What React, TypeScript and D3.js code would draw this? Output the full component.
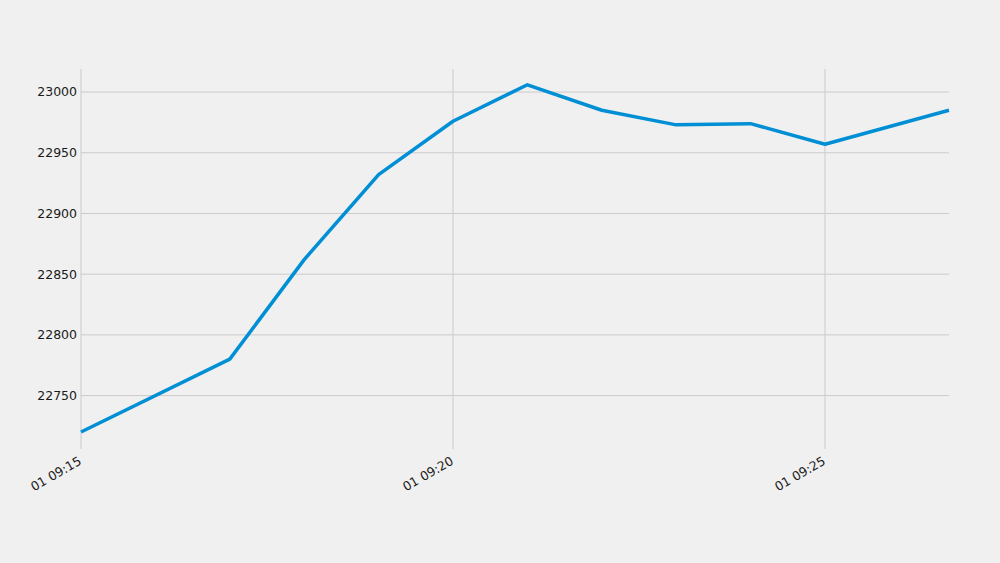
import React, { useEffect, useRef } from "react";
import * as d3 from "d3";

// minute bars, Jan 01
const times: string[] = [
    "09:15:00", "09:17:00", "09:18:00", "09:19:00", "09:20:00", "09:21:00",
    "09:22:00", "09:23:00", "09:24:00", "09:25:00", "09:26:40",
];
const prices: number[] = [
    22720, 22780, 22862, 22932, 22976, 23006,
    22985, 22973, 22974, 22957, 22985,
];
const yTicks: number[] = [22750, 22800, 22850, 22900, 22950, 23000];
const xTickTimes: string[] = ["09:15:00", "09:20:00", "09:25:00"];

const parseTime = d3.timeParse("%Y-%m-%d %H:%M:%S");
const toDate = (t: string) => parseTime("2000-01-01 " + t) as Date;

export default function App() {
    const svgRef = useRef<SVGSVGElement | null>(null);

    useEffect(() => {
        document.body.style.margin = "0";
        if (!svgRef.current) return;

        const width = 1000;
        const height = 563;
        const margin = { top: 69, right: 51, bottom: 114, left: 81 };

        const svg = d3.select(svgRef.current);
        svg.selectAll("*").remove();

        svg.append("rect")
            .attr("width", width)
            .attr("height", height)
            .attr("fill", "#f0f0f0");

        const dates = times.map(toDate);

        const x = d3.scaleTime()
            .domain([dates[0], dates[dates.length - 1]])
            .range([margin.left, width - margin.right]);

        const y = d3.scaleLinear()
            .domain([22706, 23019])
            .range([height - margin.bottom, margin.top]);

        const font = "DejaVu Sans, sans-serif";

        // horizontal grid
        svg.append("g")
            .selectAll("line")
            .data(yTicks)
            .join("line")
            .attr("x1", margin.left)
            .attr("x2", width - margin.right)
            .attr("y1", d => y(d))
            .attr("y2", d => y(d))
            .attr("stroke", "#cbcbcb")
            .attr("stroke-width", 1);

        // vertical grid
        svg.append("g")
            .selectAll("line")
            .data(xTickTimes.map(toDate))
            .join("line")
            .attr("x1", d => x(d))
            .attr("x2", d => x(d))
            .attr("y1", margin.top)
            .attr("y2", height - margin.bottom)
            .attr("stroke", "#cbcbcb")
            .attr("stroke-width", 1);

        // y labels
        svg.append("g")
            .selectAll("text")
            .data(yTicks)
            .join("text")
            .attr("x", margin.left - 4)
            .attr("y", d => y(d))
            .attr("dy", "0.35em")
            .attr("text-anchor", "end")
            .attr("font-family", font)
            .attr("font-size", 12.5)
            .attr("fill", "#1a1a1a")
            .text(d => d);

        // x labels, rotated
        const fmt = d3.timeFormat("%d %H:%M");
        svg.append("g")
            .selectAll("text")
            .data(xTickTimes.map(toDate))
            .join("text")
            .attr("transform", d => `translate(${x(d) - 3},${height - margin.bottom + 7}) rotate(-30)`)
            .attr("text-anchor", "end")
            .attr("dy", "0.7em")
            .attr("font-family", font)
            .attr("font-size", 12.5)
            .attr("fill", "#1a1a1a")
            .text(d => fmt(d));

        const line = d3.line<Date>()
            .x(d => x(d))
            .y((_, i) => y(prices[i]));

        svg.append("path")
            .datum(dates)
            .attr("d", line)
            .attr("fill", "none")
            .attr("stroke", "#008fd5")
            .attr("stroke-width", 3.5)
            .attr("stroke-linejoin", "round");
    }, []);

    return (
        <svg ref={svgRef} width={1000} height={563} style={{ display: "block" }} />
    );
}
